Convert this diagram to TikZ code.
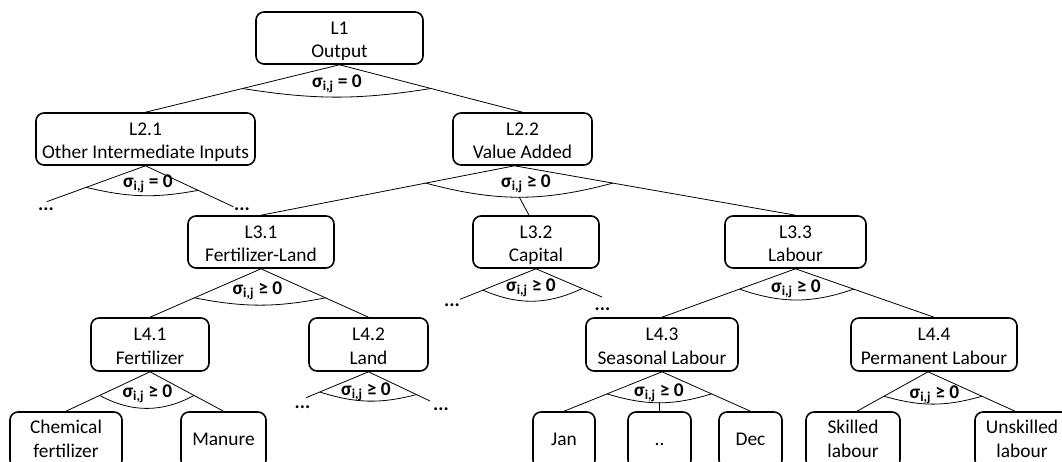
\documentclass[tikz,border=0pt]{standalone}
\usepackage{fontspec}
\setmainfont{Carlito}
\usetikzlibrary{calc}

% struts that fix where the text sits inside the boxes
\newcommand{\tophi}{\rule{0pt}{20.7pt}}
\newcommand{\toplo}{\rule[-5pt]{0pt}{5pt}}
\newcommand{\twoline}[2]{\tophi#1\\#2\toplo}
\newcommand{\leafhi}{\rule{0pt}{15.3pt}}
\newcommand{\leaftwo}[2]{\leafhi#1\\#2\toplo}
\newcommand{\leafone}[1]{\rule[-2.5pt]{0pt}{15pt}#1}

\tikzset{
  box/.style={draw, line width=1.6pt, rounded corners=8pt, inner sep=0pt,
    align=center, font=\fontsize{19.4}{23.7}\selectfont},
  conn/.style={line width=0.8pt},
  sig/.style={font=\fontsize{19.4}{23.7}\selectfont\bfseries, inner sep=0pt, anchor=base},
  more/.style={font=\fontsize{19.4}{23.7}\selectfont\bfseries, inner sep=0pt},
}

\begin{document}
\begin{tikzpicture}[x=1pt, y=-1pt]
\useasboundingbox (0,0) rectangle (1062,461);
\clip (0,0) rectangle (1062,461);

% level 1
\node[box, minimum width=167pt, minimum height=52pt] (L1) at (339.5,38) {\twoline{L1}{Output}};
% level 2
\node[box, minimum width=219pt, minimum height=52pt] (L21) at (145.5,139) {\twoline{L2.1}{Other Intermediate Inputs}};
\node[box, minimum width=139pt, minimum height=52pt] (L22) at (522.5,139) {\twoline{L2.2}{Value Added}};
% level 3
\node[box, minimum width=146pt, minimum height=52pt] (L31) at (261,242) {\twoline{L3.1}{Fertilizer-Land}};
\node[box, minimum width=126pt, minimum height=52pt] (L32) at (536,242) {\twoline{L3.2}{Capital}};
\node[box, minimum width=141pt, minimum height=52pt] (L33) at (795.5,242) {\twoline{L3.3}{Labour}};
% level 4
\node[box, minimum width=118pt, minimum height=53pt] (L41) at (150,344.5) {\twoline{L4.1}{Fertilizer}};
\node[box, minimum width=119pt, minimum height=53pt] (L42) at (368.5,344.5) {\twoline{L4.2}{Land}};
\node[box, minimum width=152pt, minimum height=53pt] (L43) at (662,344.5) {\twoline{L4.3}{Seasonal Labour}};
\node[box, minimum width=166pt, minimum height=53pt] (L44) at (934,344.5) {\twoline{L4.4}{Permanent Labour}};
% leaves
\node[box, minimum width=112pt, minimum height=56pt] (chem) at (66,440) {\leaftwo{Chemical}{fertilizer}};
\node[box, minimum width=85pt, minimum height=56pt] (manure) at (223.5,440) {\leafone{Manure}};
\node[box, minimum width=62pt, minimum height=56pt] (jan) at (564,440) {\leafone{Jan}};
\node[box, minimum width=63pt, minimum height=56pt] (mid) at (659.5,440) {\leafone{..}};
\node[box, minimum width=63pt, minimum height=56pt] (dec) at (750.5,440) {\leafone{Dec}};
\node[box, minimum width=94pt, minimum height=56pt] (skilled) at (853,440) {\leaftwo{Skilled}{labour}};
\node[box, minimum width=94pt, minimum height=56pt] (unskilled) at (1022,440) {\leaftwo{Unskilled}{labour}};

% open branch ends
\coordinate (d21l) at (46.7,201.7);
\coordinate (d21r) at (233.3,206.7);
\coordinate (d32l) at (460,299.3);
\coordinate (d32r) at (602,297);
\coordinate (d42l) at (306,397.7);
\coordinate (d42r) at (430,401);

% apexes
\coordinate (a1) at (L1.south);
\coordinate (a21) at (L21.south);
\coordinate (a22) at ([xshift=-8pt]L22.south);
\coordinate (a31) at (L31.south);
\coordinate (a32) at (L32.south);
\coordinate (a33) at (L33.south);
\coordinate (a41) at (L41.south);
\coordinate (a42) at (L42.south);
\coordinate (a43) at (L43.south);
\coordinate (a44) at ([xshift=-6pt]L44.south);

% branches
\draw[conn] (a1) -- (L21.north) (a1) -- (L22.north);
\draw[conn] (a21) -- (d21l) (a21) -- (d21r);
\draw[conn] (a22) -- (L31.north) (a22) -- (L33.north);
\draw[conn] (a31) -- (L41.north) (a31) -- (L42.north);
\draw[conn] (a32) -- (d32l) (a32) -- (d32r);
\draw[conn] (a33) -- (L43.north) (a33) -- (L44.north);
\draw[conn] (a41) -- (chem.north) (a41) -- (manure.north);
\draw[conn] (a42) -- (d42l) (a42) -- (d42r);
\draw[conn] (a43) -- (jan.north) (a43) -- (dec.north);
\draw[conn] (a44) -- ([xshift=4pt]skilled.north) (a44) -- ([xshift=-7pt]unskilled.north);

% substitution arcs
\draw[conn] ($(a1)!0.5!(L21.north)$) to[bend right=9] ($(a1)!0.5!(L22.north)$);
\draw[conn] ($(a21)!0.6!(d21l)$) to[bend right=12] ($(a21)!0.6!(d21r)$);
\draw[conn] ($(a22)!0.35!(L31.north)$) to[bend right=15] coordinate[pos=0.5] (m22) ($(a22)!0.35!(L33.north)$);
\draw[conn] ($(a31)!0.6!(L41.north)$) to[bend right=11] ($(a31)!0.6!(L42.north)$);
\draw[conn] ($(a32)!0.7!(d32l)$) to[bend right=24] ($(a32)!0.7!(d32r)$);
\draw[conn] ($(a33)!0.42!(L43.north)$) to[bend right=19] ($(a33)!0.42!(L44.north)$);
\draw[conn] ($(a41)!0.6!(chem.north)$) to[bend right=28] ($(a41)!0.6!(manure.north)$);
\draw[conn] ($(a42)!0.78!(d42l)$) to[bend right=16] ($(a42)!0.78!(d42r)$);
\draw[conn] ($(a43)!0.56!(jan.north)$) to[bend right=17] coordinate[pos=0.5] (m43) ($(a43)!0.56!(dec.north)$);
\draw[conn] ($(a44)!0.62!([xshift=4pt]skilled.north)$) to[bend right=16] ($(a44)!0.62!([xshift=-7pt]unskilled.north)$);

% middle branches
\draw[conn] (m22) -- ([xshift=-7pt]L32.north);
\draw[conn] (m43) -- (mid.north);

% elasticity labels
\node[sig] (s1) at (337,87) {σ\textsubscript{i,j} = 0};
\node[sig] (s21) at (148,187) {σ\textsubscript{i,j} = 0};
\node[sig] (s22) at (526,187) {σ\textsubscript{i,j} ≥ 0};
\node[sig] (s31) at (257.5,294) {σ\textsubscript{i,j} ≥ 0};
\node[sig] (s32) at (531,291.7) {σ\textsubscript{i,j} ≥ 0};
\node[sig] (s33) at (796,292) {σ\textsubscript{i,j} ≥ 0};
\node[sig] (s41) at (147.5,397.7) {σ\textsubscript{i,j} ≥ 0};
\node[sig] (s42) at (366,395.7) {σ\textsubscript{i,j} ≥ 0};
\node[sig] (s43) at (659,396) {σ\textsubscript{i,j} ≥ 0};
\node[sig] (s44) at (934.5,398) {σ\textsubscript{i,j} ≥ 0};

% ellipses at open ends
\node[more] (e21l) at (46,209) {...};
\node[more] (e21r) at (242,209.5) {...};
\node[more] (e32l) at (452,305) {...};
\node[more] (e32r) at (602.5,309.5) {...};
\node[more] (e42l) at (302.5,406.7) {...};
\node[more] (e42r) at (441,409) {...};
\end{tikzpicture}
\end{document}
